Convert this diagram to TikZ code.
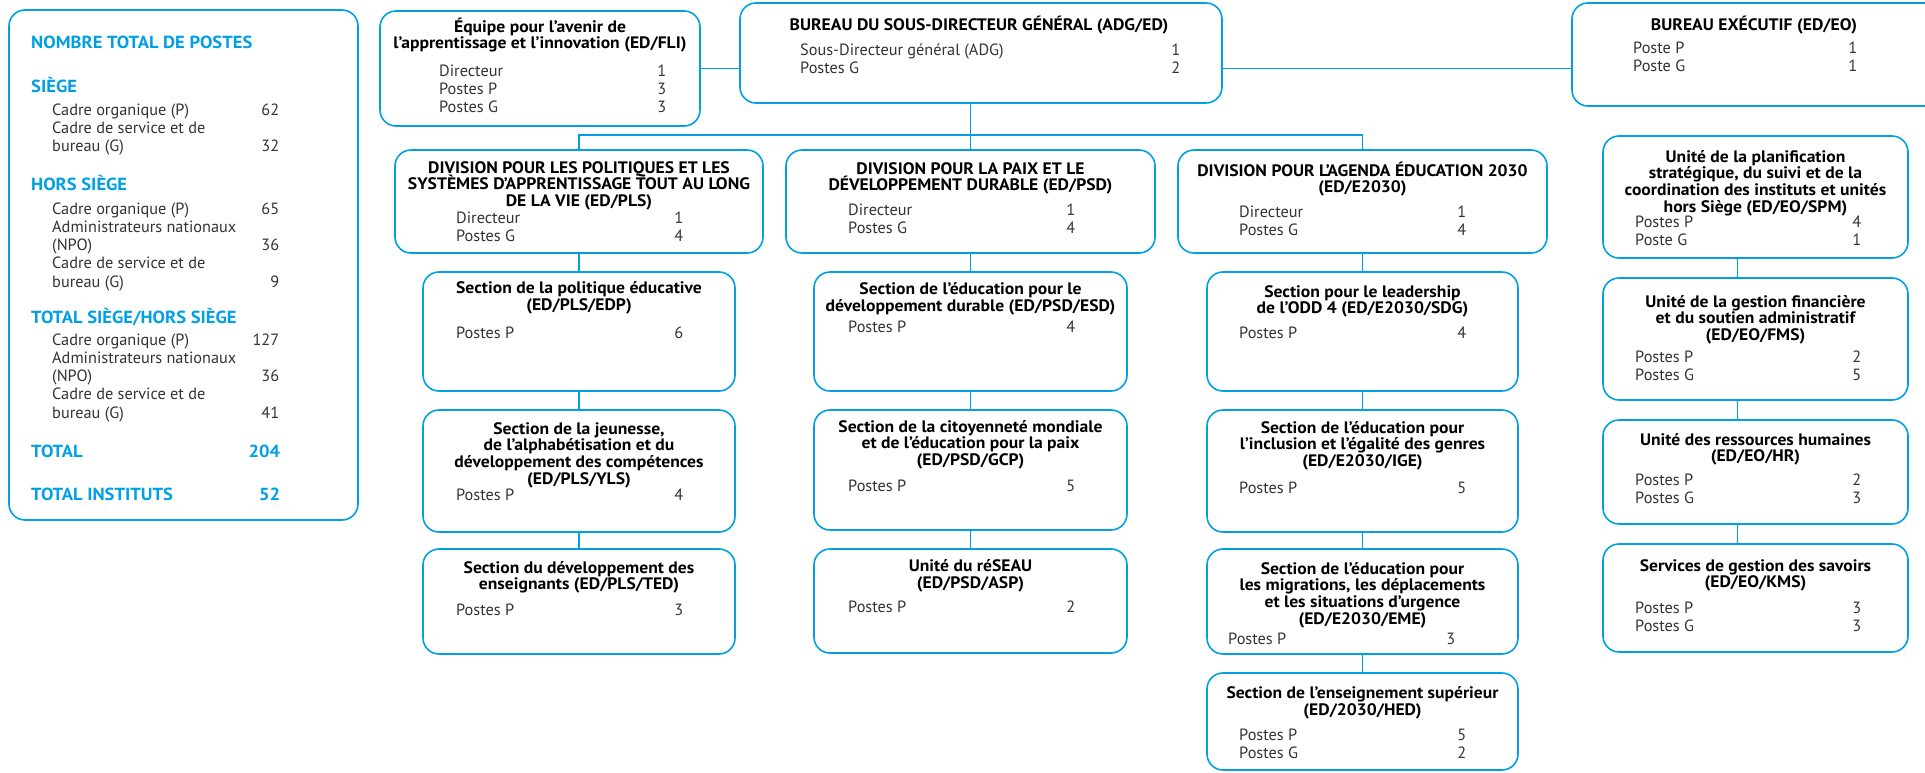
\documentclass[tikz,border=0pt]{standalone}
\usepackage{fontspec}
\setmainfont{PT Sans}
\newfontfamily\headfont{PT Sans}[FakeStretch=1.06]
\definecolor{edblue}{RGB}{0,160,227}
% one line of a staff table: label left, number flush right
\newcommand{\postes}[3][227pt]{\makebox[#1][l]{#2\hfill#3}}

\begin{document}
\setlength{\lineskiplimit}{-20pt}
\begin{tikzpicture}[x=1pt,y=-1pt,
  unit/.style={draw=edblue, line width=1.6pt, rounded corners=16pt, inner sep=0pt},
  link/.style={draw=edblue, line width=1.6pt},
  head/.style={anchor=base, align=center, inner sep=0pt,
    font=\headfont\bfseries\fontsize{16.6}{16.8}\selectfont},
  rows/.style={anchor=base west, align=left, inner sep=0pt, text=black!80,
    font=\fontsize{16.3}{18.3}\selectfont},
  total/.style={anchor=base west, inner sep=0pt, text=edblue, font=\headfont\bfseries\fontsize{17.5}{18}\selectfont}]

\useasboundingbox (0,0) rectangle (1925,772);
\clip (0,0) rectangle (1925,772);

% summary box (anchor base = last line)
\node[unit, minimum width=349pt, minimum height=510pt] (tot) at (183.5,265) {};
\node[total] (tot-t) at (31,48) {NOMBRE TOTAL DE POSTES};
\node[total] (siege-t) at (31,92) {SIÈGE};
\node[rows] (siege-r) at (52,151.6) {\postes{Cadre organique (P)}{62}\\
  \postes{Cadre de service et de}{}\\ \postes{bureau (G)}{32}};
\node[total] (hs-t) at (31,190) {HORS SIÈGE};
\node[rows] (hs-r) at (52,287.2) {\postes{Cadre organique (P)}{65}\\
  \postes{Administrateurs nationaux}{}\\ \postes{(NPO)}{36}\\
  \postes{Cadre de service et de}{}\\ \postes{bureau (G)}{9}};
\node[total] (all-t) at (31,323) {TOTAL SIÈGE/HORS SIÈGE};
\node[rows] (all-r) at (52,418.2) {\postes{Cadre organique (P)}{127}\\
  \postes{Administrateurs nationaux}{}\\ \postes{(NPO)}{36}\\
  \postes{Cadre de service et de}{}\\ \postes{bureau (G)}{41}};
\node[total] (sum) at (31,457) {\postes[249pt]{TOTAL}{204}};
\node[total] (inst) at (31,500) {\postes[249pt]{TOTAL INSTITUTS}{52}};

% top row
\node[unit, minimum width=320pt, minimum height=115pt] (fli) at (540,68.5) {};
\node[head] (fli-t) at (540,48.8) {Équipe pour l’avenir de\\l’apprentissage et l’innovation (ED/FLI)};
\node[rows] (fli-r) at (439,112.6) {\postes{Directeur}{1}\\ \postes{Postes P}{3}\\ \postes{Postes G}{3}};

\node[unit, minimum width=482pt, minimum height=100pt] (adg) at (981,53) {};
\node[head] (adg-t) at (979,30) {BUREAU DU SOUS-DIRECTEUR GÉNÉRAL (ADG/ED)};
\node[rows] (adg-r) at (800,73.3) {\postes[380pt]{Sous-Directeur général (ADG)}{1}\\ \postes[380pt]{Postes G}{2}};

\node[unit, minimum width=390pt, minimum height=103pt] (eo) at (1767,54.5) {};
\node[head] (eo-t) at (1754,30) {BUREAU EXÉCUTIF (ED/EO)};
\node[rows] (eo-r) at (1633,71.3) {\postes[224pt]{Poste P}{1}\\ \postes[224pt]{Poste G}{1}};

% divisions
\node[unit, minimum width=368pt, minimum height=103pt] (pls) at (579,201.5) {};
\node[head] (pls-t) at (579,206.6) {DIVISION POUR LES POLITIQUES ET LES\\SYSTÈMES D’APPRENTISSAGE TOUT AU LONG\\DE LA VIE (ED/PLS)};
\node[rows] (pls-r) at (456,241.5) {\postes{Directeur}{1}\\ \postes{Postes G}{4}};

\node[unit, minimum width=369pt, minimum height=103pt] (psd) at (970.5,201.5) {};
\node[head] (psd-t) at (970.5,190.8) {DIVISION POUR LA PAIX ET LE\\DÉVELOPPEMENT DURABLE (ED/PSD)};
\node[rows] (psd-r) at (848,233.3) {\postes{Directeur}{1}\\ \postes{Postes G}{4}};

\node[unit, minimum width=369pt, minimum height=103pt] (ae) at (1362.5,201.5) {};
\node[head] (ae-t) at (1362.5,192.8) {DIVISION POUR L’AGENDA ÉDUCATION 2030\\(ED/E2030)};
\node[rows] (ae-r) at (1239,235.3) {\postes{Directeur}{1}\\ \postes{Postes G}{4}};

% sections ED/PLS
\node[unit, minimum width=312pt, minimum height=119pt] (edp) at (579,331.5) {};
\node[head] (edp-t) at (579,310) {Section de la politique éducative\\(ED/PLS/EDP)};
\node[rows] (edp-r) at (456,338) {\postes{Postes P}{6}};

\node[unit, minimum width=312pt, minimum height=122pt] (yls) at (579,471) {};
\node[head] (yls-t) at (579,484.5) {Section de la jeunesse,\\de l’alphabétisation et du\\développement des compétences\\(ED/PLS/YLS)};
\node[rows] (yls-r) at (456,500) {\postes{Postes P}{4}};

\node[unit, minimum width=312pt, minimum height=105pt] (ted) at (579,601.5) {};
\node[head] (ted-t) at (579,589.8) {Section du développement des\\enseignants (ED/PLS/TED)};
\node[rows] (ted-r) at (456,615) {\postes{Postes P}{3}};

% sections ED/PSD
\node[unit, minimum width=313pt, minimum height=119pt] (esd) at (970.5,331.5) {};
\node[head] (esd-t) at (970.5,311.5) {Section de l’éducation pour le\\développement durable (ED/PSD/ESD)};
\node[rows] (esd-r) at (848,332) {\postes{Postes P}{4}};

\node[unit, minimum width=313pt, minimum height=120pt] (gcp) at (970.5,470) {};
\node[head] (gcp-t) at (970.5,465.6) {Section de la citoyenneté mondiale\\et de l’éducation pour la paix\\(ED/PSD/GCP)};
\node[rows] (gcp-r) at (848,491) {\postes{Postes P}{5}};

\node[unit, minimum width=313pt, minimum height=104pt] (asp) at (970.5,601) {};
\node[head] (asp-t) at (970.5,588) {Unité du réSEAU\\(ED/PSD/ASP)};
\node[rows] (asp-r) at (848,612) {\postes{Postes P}{2}};

% sections ED/E2030
\node[unit, minimum width=311pt, minimum height=119pt] (sdg) at (1362.5,331.5) {};
\node[head] (sdg-t) at (1362.5,313.8) {Section pour le leadership\\de l’ODD 4 (ED/E2030/SDG)};
\node[rows] (sdg-r) at (1239,338) {\postes{Postes P}{4}};

\node[unit, minimum width=311pt, minimum height=122pt] (ige) at (1362.5,471) {};
\node[head] (ige-t) at (1362.5,466.6) {Section de l’éducation pour\\l’inclusion et l’égalité des genres\\(ED/E2030/IGE)};
\node[rows] (ige-r) at (1239,493) {\postes{Postes P}{5}};

\node[unit, minimum width=311pt, minimum height=105pt] (eme) at (1362.5,601.5) {};
\node[head] (eme-t) at (1362.5,624.4) {Section de l’éducation pour\\les migrations, les déplacements\\et les situations d’urgence\\(ED/E2030/EME)};
\node[rows] (eme-r) at (1228,644) {\postes{Postes P}{3}};

\node[unit, minimum width=311pt, minimum height=97pt] (hed) at (1362.5,721.5) {};
\node[head] (hed-t) at (1362.5,715) {Section de l’enseignement supérieur\\(ED/2030/HED)};
\node[rows] (hed-r) at (1239,758.5) {\postes{Postes P}{5}\\ \postes{Postes G}{2}};

% units ED/EO
\node[unit, minimum width=305pt, minimum height=122pt] (spm) at (1755.5,197) {};
\node[head] (spm-t) at (1755.5,212.4) {Unité de la planification\\stratégique, du suivi et de la\\coordination des instituts et unités\\hors Siège (ED/EO/SPM)};
\node[rows] (spm-r) at (1635,245.3) {\postes[226pt]{Postes P}{4}\\ \postes[226pt]{Poste G}{1}};

\node[unit, minimum width=305pt, minimum height=122pt] (fms) at (1755.5,339) {};
\node[head] (fms-t) at (1755.5,340.6) {Unité de la gestion financière\\et du soutien administratif\\(ED/EO/FMS)};
\node[rows] (fms-r) at (1635,380.3) {\postes[226pt]{Postes P}{2}\\ \postes[226pt]{Postes G}{5}};

\node[unit, minimum width=305pt, minimum height=104pt] (hr) at (1755.5,472) {};
\node[head] (hr-t) at (1755.5,461.8) {Unité des ressources humaines\\(ED/EO/HR)};
\node[rows] (hr-r) at (1635,503.5) {\postes[226pt]{Postes P}{2}\\ \postes[226pt]{Postes G}{3}};

\node[unit, minimum width=305pt, minimum height=108pt] (kms) at (1755.5,598) {};
\node[head] (kms-t) at (1755.5,587.8) {Services de gestion des savoirs\\(ED/EO/KMS)};
\node[rows] (kms-r) at (1635,631.3) {\postes[226pt]{Postes P}{3}\\ \postes[226pt]{Postes G}{3}};

% connectors
\coordinate (bus) at (970.5,135);
\draw[link] (fli.east) -- (fli.east -| adg.west);
\draw[link] (adg.east |- fli.east) -- (eo.west |- fli.east);
\draw[link] (adg.south -| psd.north) -- (psd.north);
\draw[link] (pls.north) |- (bus) -| (ae.north);
\draw[link] (pls) -- (edp);
\draw[link] (edp) -- (yls);
\draw[link] (yls) -- (ted);
\draw[link] (psd) -- (esd);
\draw[link] (esd) -- (gcp);
\draw[link] (gcp) -- (asp);
\draw[link] (ae) -- (sdg);
\draw[link] (sdg) -- (ige);
\draw[link] (ige) -- (eme);
\draw[link] (eme) -- (hed);
\draw[link] ([xshift=-18pt]spm.south) -- ([xshift=-18pt]fms.north);
\draw[link] ([xshift=-18pt]fms.south) -- ([xshift=-18pt]hr.north);
\draw[link] ([xshift=-18pt]hr.south) -- ([xshift=-18pt]kms.north);
\end{tikzpicture}
\end{document}
